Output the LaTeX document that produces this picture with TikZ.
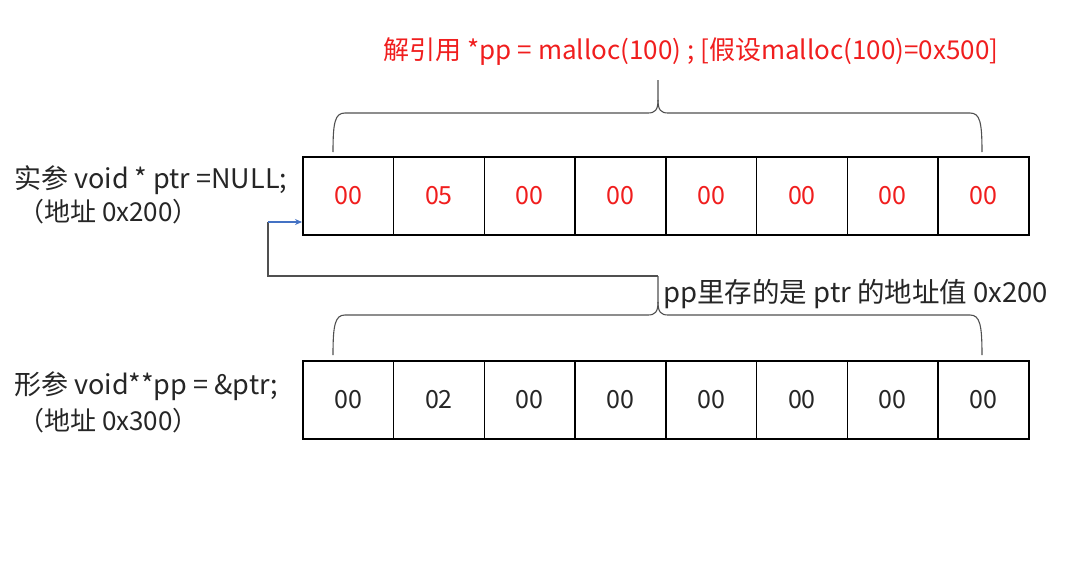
\documentclass[tikz,border=0pt]{standalone}
\usepackage{fontspec}
\setmainfont{Noto Sans CJK SC}
\usetikzlibrary{arrows.meta}
\definecolor{redtxt}{RGB}{240,30,30}
\definecolor{bluearr}{RGB}{68,114,196}
\definecolor{linegray}{RGB}{80,80,80}
\begin{document}
\begin{tikzpicture}[x=1pt,y=-1pt,
  cell/.style={draw=black,line width=1.6pt,minimum width=90.75pt,minimum height=78pt,inner sep=0pt,anchor=north west,font=\fontsize{25}{25}\selectfont},
  lbl/.style={inner sep=0pt,font=\fontsize{26}{30}\selectfont,text=black!85},
  bracel/.style={draw=linegray,line width=1.1pt},
  conn/.style={draw=linegray,line width=1.1pt},
  arr/.style={draw=bluearr,line width=1.1pt,-{Stealth[length=7pt,width=6pt]}}]
\useasboundingbox (0,0) rectangle (1080,565);
% top row
\foreach \v [count=\i from 0] in {00,05,00,00,00,00,00,00}
  \node[cell,text=redtxt] (t\i) at ({302+90.75*\i},156) {\v};
% bottom row
\foreach \v [count=\i from 0] in {00,02,00,00,00,00,00,00}
  \node[cell,text=black!85] (b\i) at ({302+90.75*\i},360) {\v};
% labels
\node[lbl,anchor=west,font=\fontsize{27}{30}\selectfont] (lt1) at (14,180) {实参 void * ptr =NULL;};
\node[lbl,anchor=west] (lt2) at (18,212) {（地址 0x200）};
\node[lbl,anchor=west,font=\fontsize{27}{30}\selectfont] (lb1) at (14,386) {形参 void**pp = \&ptr;};
\node[lbl,anchor=west] (lb2) at (18,421) {（地址 0x300）};
\node[lbl,text=redtxt] (top) at (691,52) {解引用 *pp = malloc(100) ; [假设malloc(100)=0x500]};
\node[lbl,anchor=west,font=\fontsize{27.5}{30}\selectfont] (mid) at (663,294) {pp里存的是 ptr 的地址值 0x200};
% top brace
\draw[bracel] (333,152) .. controls (333,122) and (335,113) .. (345,113) -- (648,113)
  .. controls (655,113) and (658,110) .. (658,100) -- (658,80);
\draw[bracel] (982,152) .. controls (982,122) and (980,113) .. (970,113) -- (668,113)
  .. controls (661,113) and (658,110) .. (658,100);
% bottom brace
\draw[bracel] (333,355) .. controls (333,325) and (335,315) .. (345,315) -- (648,315)
  .. controls (655,315) and (658,312) .. (658,302) -- (658,276);
\draw[bracel] (982,355) .. controls (982,325) and (980,315) .. (970,315) -- (668,315)
  .. controls (661,315) and (658,312) .. (658,302);
% connector
\coordinate (btip) at (658,276);
\coordinate (corner) at (268,222);
\draw[conn] (btip) -| (corner);
\draw[arr] (corner) -- (corner -| t0.west);
\end{tikzpicture}
\end{document}
